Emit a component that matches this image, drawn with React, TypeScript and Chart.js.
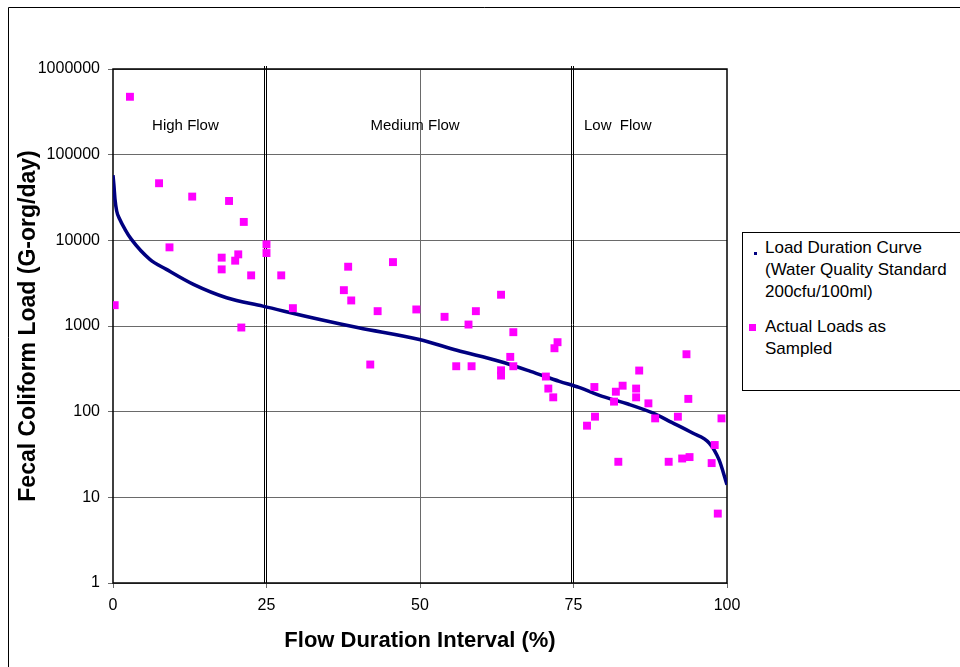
import React, { useEffect, useRef } from "react";
import { Chart, registerables } from "chart.js";

Chart.register(...registerables);

// ---------- data ----------
const curvePct = [0, 0.16, 0.33, 0.6, 1.1, 1.95, 3.0, 6.0, 8.7, 13.1, 18.5, 24.4, 33.7, 40, 49.9, 56, 62.9, 68, 72.7, 75.9, 79.7, 84, 87.9, 91, 94.4, 97.1, 98.7, 100];
const curveLoad = [57500, 43200, 30000, 22000, 17600, 13450, 10250, 6000, 4580, 3060, 2137, 1706, 1191, 953, 695, 521, 388, 296, 226, 192, 151, 122, 96.6, 75, 56.3, 43, 27.5, 14];

const samplePct = [
  0.27, 2.76, 7.5, 9.2, 12.9, 17.7, 17.7, 18.9, 19.9, 20.4, 20.9, 21.3, 22.5, 25.0, 25.0, 27.4, 29.3,
  37.6, 38.3, 38.8, 41.9, 43.1, 45.6, 49.4, 54.0, 55.9, 57.9, 58.4, 59.1, 63.2, 63.2, 63.2, 64.7, 65.2, 65.2, 70.5, 70.9, 71.7, 71.9, 72.4,
  77.2, 78.4, 78.5, 81.6, 81.9, 82.3, 83.0, 85.2, 85.2, 85.7, 87.2, 88.3, 90.5, 92.0, 92.7, 93.4, 93.7, 93.9, 97.5, 98.0, 98.5, 99.1,
];
const sampleLoad = [
  1750, 474000, 46400, 8280, 32400, 6280, 4580, 28800, 5790, 6860, 960, 16400, 3900, 8980, 7110, 3900, 1615,
  2620, 4920, 1987, 355, 1490, 5570, 1560, 1280, 339, 1040, 339, 1490, 2317, 304, 264, 436, 847, 339, 257, 186, 147, 550, 647,
  68.6, 194, 87.4, 131, 171, 26, 201, 186, 147, 302, 125, 83.5, 26, 87.4, 28.4, 468, 141, 29.5, 25.1, 40.8, 6.46, 83.5,
];

const xTicks = [0, 25, 50, 75, 100];
const yTicks = [1, 10, 100, 1000, 10000, 100000, 1000000];
const flowBreaks = [25, 75];
const regionLabels = ["High Flow", "Medium Flow", "Low  Flow"];
const regionCenters = [11.8, 49.2, 82.2];
const regionLabelLoad = 215000;

const xTitle = "Flow Duration Interval (%)";
const yTitle = "Fecal Coliform Load (G-org/day)";
const legendCurveLines = ["Load Duration Curve", "(Water Quality Standard", "200cfu/100ml)"];
const legendSampleLines = ["Actual Loads as", "Sampled"];

// ---------- styles ----------
const FONT = "Arial, 'Liberation Sans', Helvetica, sans-serif";
const NAVY = "#000080";
const MAGENTA = "#FF00FF";
const GRID = "#6a6a6a";

const decorations = {
  id: "decorations",
  beforeDraw(chart: any) {
    const ctx = chart.ctx;
    ctx.save();
    ctx.strokeStyle = "#000";
    ctx.lineWidth = 1;
    ctx.beginPath();
    ctx.moveTo(8.5, chart.height);
    ctx.lineTo(8.5, 7.5);
    ctx.lineTo(chart.width, 7.5);
    ctx.stroke();
    ctx.restore();
  },
  beforeDatasetsDraw(chart: any) {
    const ctx = chart.ctx;
    const a = chart.chartArea;
    const xs = chart.scales.x;
    const ys = chart.scales.y;
    ctx.save();
    // flow regime dividers (double lines)
    ctx.strokeStyle = "#000";
    ctx.lineWidth = 1;
    flowBreaks.forEach((b) => {
      const px = xs.getPixelForValue(b) - 1.5;
      [-1.2, 1.2].forEach((d) => {
        ctx.beginPath();
        ctx.moveTo(Math.round(px + d) + 0.5, a.top - 3);
        ctx.lineTo(Math.round(px + d) + 0.5, a.bottom);
        ctx.stroke();
      });
    });
    // plot frame
    ctx.lineWidth = 1.5;
    ctx.strokeStyle = "#000";
    ctx.strokeRect(a.left, a.top, a.right - a.left, a.bottom - a.top);
    // region labels
    ctx.fillStyle = "#000";
    ctx.font = `15px ${FONT}`;
    ctx.textAlign = "center";
    ctx.textBaseline = "middle";
    regionLabels.forEach((t, i) => {
      ctx.fillText(t, xs.getPixelForValue(regionCenters[i]), ys.getPixelForValue(regionLabelLoad));
    });
    ctx.restore();
  },
};

export default function App() {
  const ref = useRef<HTMLCanvasElement>(null);

  useEffect(() => {
    if (!ref.current) return;
    const chart = new Chart(ref.current, {
      type: "scatter",
      data: {
        datasets: [
          {
            label: legendSampleLines.join(" "),
            data: samplePct.map((x, i) => ({ x, y: sampleLoad[i] })),
            pointStyle: "rect",
            pointRadius: 5.6,
            pointBackgroundColor: MAGENTA,
            pointBorderWidth: 0,
            backgroundColor: MAGENTA,
            borderColor: MAGENTA,
            showLine: false,
            order: 0,
          },
          {
            label: legendCurveLines.join(" "),
            data: curvePct.map((x, i) => ({ x, y: curveLoad[i] })),
            showLine: true,
            borderColor: NAVY,
            backgroundColor: NAVY,
            borderWidth: 3.5,
            pointRadius: 0,
            cubicInterpolationMode: "monotone",
            order: 1,
          } as any,
        ],
      },
      options: {
        responsive: false,
        animation: false,
        events: [],
        layout: { padding: { top: 69, right: 233, left: 0, bottom: 0 } },
        plugins: {
          legend: { display: false },
          tooltip: { enabled: false },
        },
        scales: {
          x: {
            type: "linear",
            min: 0,
            max: 100,
            afterBuildTicks: (s: any) => {
              s.ticks = xTicks.map((v) => ({ value: v }));
            },
            afterFit: (s: any) => {
              s.height = 84;
            },
            ticks: {
              color: "#000",
              padding: 8,
              font: { family: FONT, size: 16 },
              callback: (v: any) => String(v),
            },
            grid: {
              color: (c: any) => (c.tick && c.tick.value === 50 ? GRID : "rgba(0,0,0,0)"),
              tickColor: GRID,
              tickLength: 5,
              lineWidth: 1,
            },
            border: { display: false },
            title: {
              display: true,
              text: xTitle,
              color: "#000",
              font: { family: FONT, size: 22, weight: "bold" },
              padding: { top: 0, bottom: 13 },
            },
          },
          y: {
            type: "logarithmic",
            min: 1,
            max: 1000000,
            afterBuildTicks: (s: any) => {
              s.ticks = yTicks.map((v) => ({ value: v }));
            },
            afterFit: (s: any) => {
              s.width = 113;
            },
            ticks: {
              color: "#000",
              padding: 8,
              font: { family: FONT, size: 16 },
              callback: (v: any) => String(v),
            },
            grid: {
              color: GRID,
              tickColor: GRID,
              tickLength: 5,
              lineWidth: 1,
            },
            border: { display: false },
            title: {
              display: true,
              text: yTitle,
              color: "#000",
              font: { family: FONT, size: 23, weight: "bold" },
              padding: { top: 15, bottom: 0 },
            },
          },
        },
      } as any,
      plugins: [decorations],
    });
    return () => chart.destroy();
  }, []);

  const textStyle: React.CSSProperties = {
    position: "absolute",
    left: 765,
    fontFamily: FONT,
    fontSize: 17,
    lineHeight: "22px",
    whiteSpace: "pre",
    color: "#000",
  };

  return (
    <div
      style={{
        position: "fixed",
        left: 0,
        top: 0,
        width: 960,
        height: 667,
        overflow: "hidden",
        background: "#fff",
      }}
    >
      <canvas ref={ref} width={960} height={667} style={{ position: "absolute", left: 0, top: 0, display: "block" }} />
      <div
        style={{
          position: "absolute",
          left: 742,
          top: 232,
          width: 218,
          height: 159,
          borderLeft: "1px solid #000",
          borderTop: "1px solid #000",
          borderBottom: "1px solid #000",
          boxSizing: "border-box",
          background: "#fff",
        }}
      />
      <div style={{ position: "absolute", left: 754, top: 252, width: 3, height: 3, background: NAVY }} />
      <div style={{ ...textStyle, top: 237 }}>
        {legendCurveLines.map((l, i) => (
          <div key={i}>{l}</div>
        ))}
      </div>
      <div style={{ position: "absolute", left: 749, top: 324, width: 7, height: 7, background: MAGENTA }} />
      <div style={{ ...textStyle, top: 316 }}>
        {legendSampleLines.map((l, i) => (
          <div key={i}>{l}</div>
        ))}
      </div>
    </div>
  );
}
